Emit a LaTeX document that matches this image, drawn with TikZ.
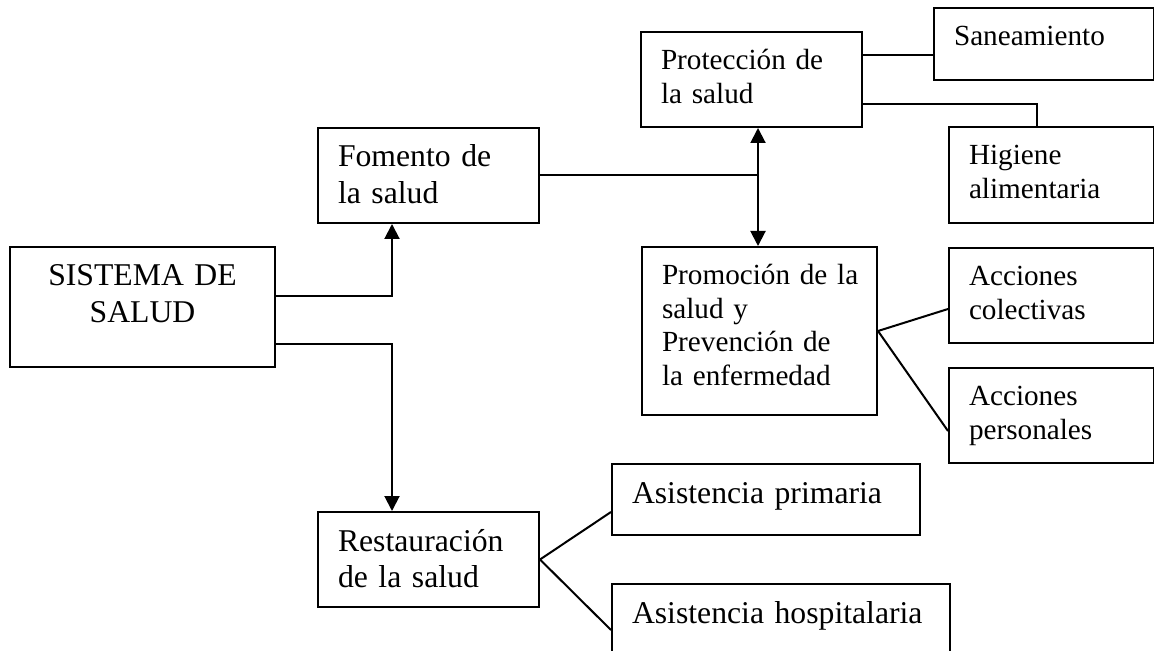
\documentclass[tikz,border=0pt]{standalone}
\usepackage{fontspec}
\setmainfont{Liberation Serif}
\usetikzlibrary{arrows.meta}
\tikzset{>={Triangle[length=7.5pt,width=7.5pt]}}
\tikzset{
  caja/.style={draw, line width=1pt, anchor=north west, inner xsep=10pt, inner ysep=0pt, align=left},
  grande/.style={font=\fontsize{15.85pt}{18.25pt}\selectfont, text height=19.5pt},
  chica/.style={font=\fontsize{14.6pt}{16.8pt}\selectfont, text height=18.75pt},
  linea/.style={line width=1pt}
}

\begin{document}
\begin{tikzpicture}[x=0.5pt, y=-0.5pt]
    \clip (0,0) rectangle (1154,651);
    % cajas de la izquierda
    \node[caja, grande, align=center, text width=112.5pt, text depth=40.5pt] (sis) at (9,246) {SISTEMA DE\\SALUD};
    \node[caja, grande, text width=90.5pt, text depth=28pt] (fom) at (317,127) {Fomento de\\la salud};
    \node[caja, grande, text width=90.5pt, text depth=28pt] (res) at (317,511) {Restauración\\de la salud};
    \node[caja, grande, text width=134pt, text depth=16pt] (pri) at (611,463) {Asistencia primaria};
    \node[caja, grande, text width=149pt, text depth=20.5pt] (hos) at (611,583) {Asistencia hospitalaria};
    % cajas de la derecha
    \node[caja, chica, text width=90.5pt, text depth=28.75pt] (pro) at (640,31) {Protección de\\la salud};
    \node[caja, chica, text width=90pt, text depth=17.25pt] (san) at (933,7) {Saneamiento};
    \node[caja, chica, text width=82.5pt, text depth=29.25pt] (hig) at (948,126) {Higiene\\alimentaria};
    \node[caja, chica, text width=97.5pt, text depth=65.25pt] (prom) at (641,246) {\mbox{Promoción de la}\\salud y\\\mbox{Prevención de}\\la enfermedad};
    \node[caja, chica, text width=82.5pt, text depth=28.75pt] (col) at (948,247) {Acciones\\colectivas};
    \node[caja, chica, text width=82.5pt, text depth=28.75pt] (per) at (948,367) {Acciones\\personales};

    % flechas del sistema
    \draw[linea,->] ([yshift=5.5pt]sis.east) -| ([xshift=-18.25pt]fom.south);
    \draw[linea,->] ([yshift=-18.5pt]sis.east) -| ([xshift=-18.25pt]res.north);

    % fomento
    \coordinate (jn) at ([xshift=3.25pt]pro.south |- fom.east);
    \draw[linea] (fom.east) -- (jn);
    \draw[linea,<->] (pro.south -| jn) -- (prom.north -| jn);

    % proteccion
    \draw[linea] ([yshift=12.25pt]pro.east) -- ([yshift=12.25pt]pro.east -| san.west);
    \draw[linea] ([yshift=-12.25pt]pro.east) -| ([xshift=-7.25pt]hig.north);

    % promocion
    \draw[linea] (prom.east) -- ([yshift=-6.75pt]col.west);
    \draw[linea] (prom.east) -- ([yshift=-7.75pt]per.west);

    % restauracion
    \draw[linea] (res.east) -- ([yshift=-6.25pt]pri.west);
    \draw[linea] (res.east) -- ([yshift=-23.5pt]hos.north west);
\end{tikzpicture}
\end{document}
